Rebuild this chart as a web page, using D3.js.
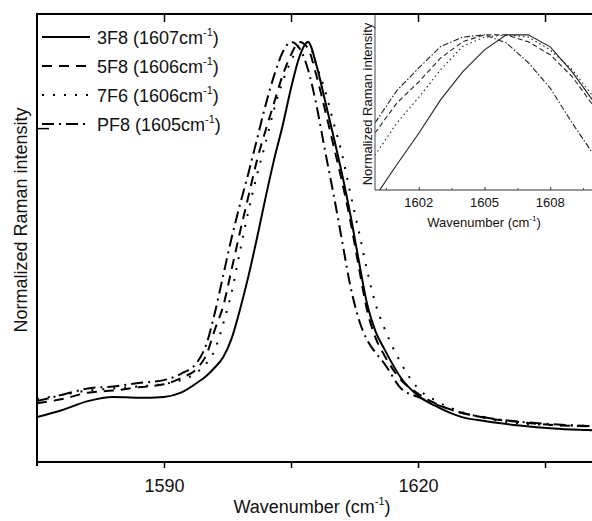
<!DOCTYPE html>
<html>
<head>
<meta charset="utf-8">
<script src="https://cdn.jsdelivr.net/npm/d3@7"></script>
<style>
  body { margin: 0; background: #fff; }
  text { font-family: "Liberation Sans", Arial, sans-serif; fill: #111; }
</style>
</head>
<body>
<div id="chart"></div>
<script>
// Main spectra (normalized Raman intensity)
var wavenumber = [1575, 1578, 1581, 1584, 1587, 1590, 1592, 1594, 1595, 1596, 1597, 1598, 1599, 1600, 1601,
  1602, 1603, 1604, 1605, 1606, 1607, 1608, 1609, 1610, 1611, 1612, 1613, 1614, 1615, 1616,
  1618, 1620, 1622, 1625, 1628, 1632, 1636, 1640, 1645];
var s3F8 = [0.107, 0.124, 0.145, 0.155, 0.153, 0.155, 0.165, 0.19, 0.205, 0.225, 0.25, 0.295, 0.365, 0.445, 0.535,
  0.63, 0.72, 0.80, 0.89, 0.965, 1.0, 0.945, 0.862, 0.777, 0.688, 0.59, 0.48, 0.375, 0.31, 0.27,
  0.2, 0.158, 0.134, 0.108, 0.097, 0.087, 0.08, 0.076, 0.072];
var s5F8 = [0.14, 0.15, 0.165, 0.17, 0.178, 0.185, 0.2, 0.225, 0.255, 0.315, 0.372, 0.46, 0.55, 0.635, 0.72,
  0.79, 0.855, 0.92, 0.97, 1.0, 0.985, 0.92, 0.84, 0.755, 0.67, 0.575, 0.465, 0.36, 0.295, 0.255,
  0.195, 0.163, 0.14, 0.118, 0.105, 0.095, 0.088, 0.085, 0.082];
var s7F6 = [0.15, 0.16, 0.17, 0.175, 0.18, 0.186, 0.195, 0.215, 0.235, 0.267, 0.33, 0.405, 0.505, 0.6, 0.685,
  0.76, 0.84, 0.905, 0.955, 0.99, 1.0, 0.945, 0.885, 0.81, 0.735, 0.64, 0.55, 0.455, 0.375, 0.32,
  0.235, 0.175, 0.147, 0.12, 0.104, 0.092, 0.088, 0.086, 0.084];
var sPF8 = [0.145, 0.16, 0.175, 0.18, 0.188, 0.195, 0.21, 0.24, 0.28, 0.355, 0.445, 0.535, 0.615, 0.69, 0.77,
  0.85, 0.92, 0.975, 1.0, 0.985, 0.935, 0.85, 0.743, 0.64, 0.53, 0.42, 0.34, 0.29, 0.26, 0.235,
  0.175, 0.155, 0.138, 0.118, 0.106, 0.096, 0.09, 0.086, 0.083];

// Inset: peak top at 1 cm-1 steps
var insetWavenumber = [1600, 1601, 1602, 1603, 1604, 1605, 1606, 1607, 1608, 1609, 1610];
var i3F8 = [0.30, 0.44, 0.575, 0.72, 0.84, 0.935, 1.0, 1.0, 0.948, 0.84, 0.71];
var i5F8 = [0.576, 0.706, 0.797, 0.90, 0.97, 1.0, 1.0, 0.97, 0.914, 0.82, 0.69];
var i7F6 = [0.48, 0.62, 0.73, 0.85, 0.95, 0.99, 1.0, 0.99, 0.935, 0.85, 0.73];
var iPF8 = [0.62, 0.76, 0.857, 0.95, 0.99, 1.0, 0.965, 0.88, 0.77, 0.62, 0.48];

var legendNames = ["3F8 (1607cm", "5F8 (1606cm", "7F6 (1606cm", "PF8 (1605cm"];
var dashes = ["none", "10,7", "2,9", "12,5,2,5"];
var mainTicks = [1590, 1605, 1620, 1635];
var mainTickLabels = [1590, 1620];
var insetTicks = [1602, 1605, 1608];
var insetMinor = [1600.5, 1603.5, 1606.5, 1609.5];

var W = 592, H = 521;
var svg = d3.select("#chart").append("svg")
  .attr("width", W).attr("height", H);

var x = d3.scaleLinear().domain([1575, 1645]).range([37, 629.7]);
var y = d3.scaleLinear().domain([0, 1.0667]).range([462, 14]);

svg.append("clipPath").attr("id", "mainClip")
  .append("rect").attr("x", 37).attr("y", 14).attr("width", 600).attr("height", 448);

var mainSeries = [s3F8, s5F8, s7F6, sPF8];
var line = d3.line()
  .x(function(d) { return x(d[0]); })
  .y(function(d) { return y(d[1]); })
  .curve(d3.curveMonotoneX);

var curves = svg.append("g").attr("clip-path", "url(#mainClip)");
mainSeries.forEach(function(s, i) {
  curves.append("path")
    .datum(wavenumber.map(function(w, j) { return [w, s[j]]; }))
    .attr("d", line)
    .attr("fill", "none")
    .attr("stroke", "#000")
    .attr("stroke-width", 2)
    .attr("stroke-dasharray", dashes[i]);
});

// Main axes
var bottomAxis = svg.append("g").attr("transform", "translate(0,462)")
  .call(d3.axisBottom(x).tickValues(mainTicks).tickSize(6)
    .tickFormat(function(d) { return mainTickLabels.indexOf(d) >= 0 ? d : ""; }));
bottomAxis.select(".domain").remove();
bottomAxis.selectAll("line").attr("stroke", "#000").attr("stroke-width", 1.5);
bottomAxis.selectAll("text").attr("font-size", 18).attr("dy", "1.15em")
  .style("font-family", "'Liberation Sans', Arial, sans-serif").attr("fill", "#111");

svg.append("line").attr("x1", 37).attr("x2", W).attr("y1", 462).attr("y2", 462)
  .attr("stroke", "#000").attr("stroke-width", 2);
svg.append("line").attr("x1", 37).attr("x2", 37).attr("y1", 13).attr("y2", 466)
  .attr("stroke", "#000").attr("stroke-width", 2);

var leftAxis = svg.append("g").attr("transform", "translate(37,0)")
  .call(d3.axisRight(y).tickValues([0.795]).tickSize(12).tickFormat(""));
leftAxis.select(".domain").remove();
leftAxis.selectAll("line").attr("stroke", "#000").attr("stroke-width", 1.5);

svg.append("text")
  .attr("transform", "translate(27,220) rotate(-90)")
  .attr("text-anchor", "middle")
  .attr("font-size", 18)
  .text("Normalized Raman intensity");

var xt = svg.append("text")
  .attr("x", 312).attr("y", 513)
  .attr("text-anchor", "middle")
  .attr("font-size", 18);
xt.append("tspan").text("Wavenumber (cm");
xt.append("tspan").attr("font-size", 11).attr("dy", -8).text("-1");
xt.append("tspan").attr("dy", 8).text(")");

// Legend
legendNames.forEach(function(n, i) {
  var ly = 37 + i * 29;
  svg.append("line").attr("x1", 42).attr("x2", 90).attr("y1", ly).attr("y2", ly)
    .attr("stroke", "#000").attr("stroke-width", 2).attr("stroke-dasharray", dashes[i]);
  var t = svg.append("text").attr("x", 97).attr("y", ly + 6.5).attr("font-size", 18);
  t.append("tspan").text(n);
  t.append("tspan").attr("font-size", 11).attr("dy", -8).text("-1");
  t.append("tspan").attr("dy", 8).text(")");
});

// Inset
var ix = d3.scaleLinear().domain([1600, 1610]).range([375, 594]);
var iy = d3.scaleLinear().domain([0.33, 1.09]).range([190, 14]);

svg.append("rect").attr("x", 375).attr("y", 14).attr("width", 230).attr("height", 176)
  .attr("fill", "#fff");
svg.append("clipPath").attr("id", "insetClip")
  .append("rect").attr("x", 375).attr("y", 14).attr("width", 230).attr("height", 176);

var iline = d3.line()
  .x(function(d) { return ix(d[0]); })
  .y(function(d) { return iy(d[1]); });
var insetSeries = [i3F8, i5F8, i7F6, iPF8];
var ig = svg.append("g").attr("clip-path", "url(#insetClip)");
insetSeries.forEach(function(s, i) {
  ig.append("path")
    .datum(insetWavenumber.map(function(w, j) { return [w, s[j]]; }))
    .attr("d", iline)
    .attr("fill", "none")
    .attr("stroke", "#222")
    .attr("stroke-width", 1.1)
    .attr("stroke-dasharray", ["none", "5,3", "1.5,3", "6,2,1.5,2"][i]);
});

svg.append("line").attr("x1", 375).attr("x2", W).attr("y1", 190).attr("y2", 190)
  .attr("stroke", "#333").attr("stroke-width", 1.2);
svg.append("line").attr("x1", 375).attr("x2", 375).attr("y1", 14).attr("y2", 190)
  .attr("stroke", "#666").attr("stroke-width", 1.2);

var ib = svg.append("g").attr("transform", "translate(0,190)")
  .call(d3.axisTop(ix).tickValues(insetTicks).tickSize(3).tickFormat(""));
ib.select(".domain").remove();
ib.selectAll("line").attr("stroke", "#333");
var ibm = svg.append("g").attr("transform", "translate(0,190)")
  .call(d3.axisTop(ix).tickValues(insetMinor).tickSize(2).tickFormat(""));
ibm.select(".domain").remove();
ibm.selectAll("line").attr("stroke", "#555");

svg.selectAll(".itick").data(insetTicks).enter().append("text")
  .attr("x", function(d) { return ix(d); }).attr("y", 207)
  .attr("text-anchor", "middle").attr("font-size", 13).attr("fill", "#333")
  .text(function(d) { return d; });

var it = svg.append("text").attr("x", 484).attr("y", 227)
  .attr("text-anchor", "middle").attr("font-size", 13).attr("fill", "#333");
it.append("tspan").text("Wavenumber (cm");
it.append("tspan").attr("font-size", 8).attr("dy", -6).text("-1");
it.append("tspan").attr("dy", 6).text(")");

svg.append("text")
  .attr("transform", "translate(372,104) rotate(-90)")
  .attr("text-anchor", "middle").attr("font-size", 13).attr("fill", "#333")
  .text("Normalized Raman intensity");

// Main top frame with ticks (drawn last so ticks show over the inset)
svg.append("line").attr("x1", 36).attr("x2", W).attr("y1", 14).attr("y2", 14)
  .attr("stroke", "#000").attr("stroke-width", 2);
var topAxis = svg.append("g").attr("transform", "translate(0,14)")
  .call(d3.axisBottom(x).tickValues(mainTicks).tickSize(8).tickFormat(""));
topAxis.select(".domain").remove();
topAxis.selectAll("line").attr("stroke", "#000").attr("stroke-width", 1.5);
</script>
</body>
</html>
